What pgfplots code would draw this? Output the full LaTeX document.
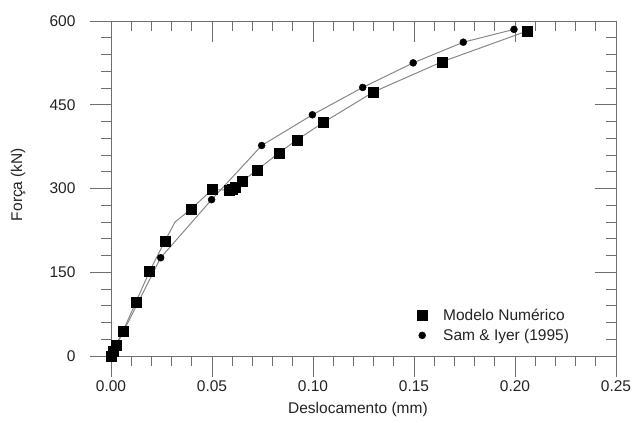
\documentclass[border=0pt]{standalone}
\usepackage{fontspec}
\setmainfont{Liberation Sans}
\usepackage{pgfplots}
\pgfplotsset{compat=1.18}
\definecolor{linegray}{RGB}{135,135,135}
\definecolor{axgray}{RGB}{110,110,110}
\definecolor{txt}{RGB}{35,35,35}

\pgfplotsset{
  frame/.style={
    scale only axis, width=505pt, height=335pt,
    xmin=0, xmax=0.25, ymin=0, ymax=600,
    xtick={0,0.05,0.10,0.15,0.20,0.25},
    ytick={0,150,300,450,600},
    minor x tick num=4, minor y tick num=4,
    major tick length=21pt, minor tick length=10pt,
    axis line style={axgray, line width=0.9pt},
    every tick/.style={axgray, line width=0.9pt},
  }
}

\begin{document}
\begin{tikzpicture}[font=\fontsize{15.5}{18}\selectfont]
% inner ticks on top and right
\begin{axis}[frame, tick align=inside, xtick pos=right, ytick pos=right,
  xticklabels={}, yticklabels={}]
\end{axis}
\begin{axis}[frame, name=ax, tick align=outside, xtick pos=left, ytick pos=left,
  /pgf/number format/assume math mode=true,
  tick label style={text=txt},
  yticklabel shift=11pt,
  x tick label style={/pgf/number format/.cd, fixed, fixed zerofill, precision=2},
  xlabel={Deslocamento (mm)}, ylabel={Força (kN)},
  label style={text=txt},
  xlabel style={at={(axis description cs:0.489,-0.173)}, anchor=base},
  ylabel style={at={(axis description cs:-0.184,0.512)}, anchor=center},
  legend style={draw=none, fill=none, text=txt, font=\fontsize{15.5}{18}\selectfont,
    at={(axis description cs:0.600,0.03)}, anchor=south west, row sep=3pt,
    /tikz/every odd column/.append style={column sep=14pt}},
  legend cell align=left]
% lines
\addplot[linegray, line width=1pt, forget plot] coordinates {
 (0,0) (0.001,8) (0.0025,20) (0.006,45) (0.0124,97) (0.019,151) (0.0267,206)
 (0.0317,240) (0.0396,263) (0.050,298) (0.0584,297) (0.060,299) (0.0614,302)
 (0.0649,313) (0.0723,333) (0.0832,364) (0.092,387) (0.105,418) (0.130,473)
 (0.1639,527) (0.206,582)};
\addplot[linegray, line width=1pt, forget plot] coordinates {
 (0,0) (0.0246,176) (0.0498,280) (0.0746,377) (0.0997,432) (0.1246,481)
 (0.1496,525) (0.1744,562) (0.1995,585)};
% markers
\addplot[only marks, mark=square*, mark size=5pt, black] coordinates {
 (0,0) (0.001,8) (0.0025,20) (0.006,45) (0.0124,97) (0.019,151) (0.0267,206)
 (0.0396,263) (0.050,298) (0.0584,297) (0.060,299) (0.0614,302)
 (0.0649,313) (0.0723,333) (0.0832,364) (0.092,387) (0.105,418) (0.130,473)
 (0.1639,527) (0.206,582)};
\addlegendentry{Modelo Numérico}
\addplot[only marks, mark=*, mark size=3.5pt, black] coordinates {
 (0,0) (0.0246,176) (0.0498,280) (0.0746,377) (0.0997,432) (0.1246,481)
 (0.1496,525) (0.1744,562) (0.1995,585)};
\addlegendentry{Sam \& Iyer (1995)}
\end{axis}
\pgfresetboundingbox
\useasboundingbox ([shift={(-111pt,-67pt)}]ax.south west) rectangle ([shift={(17pt,21pt)}]ax.north east);
\end{tikzpicture}
\end{document}
